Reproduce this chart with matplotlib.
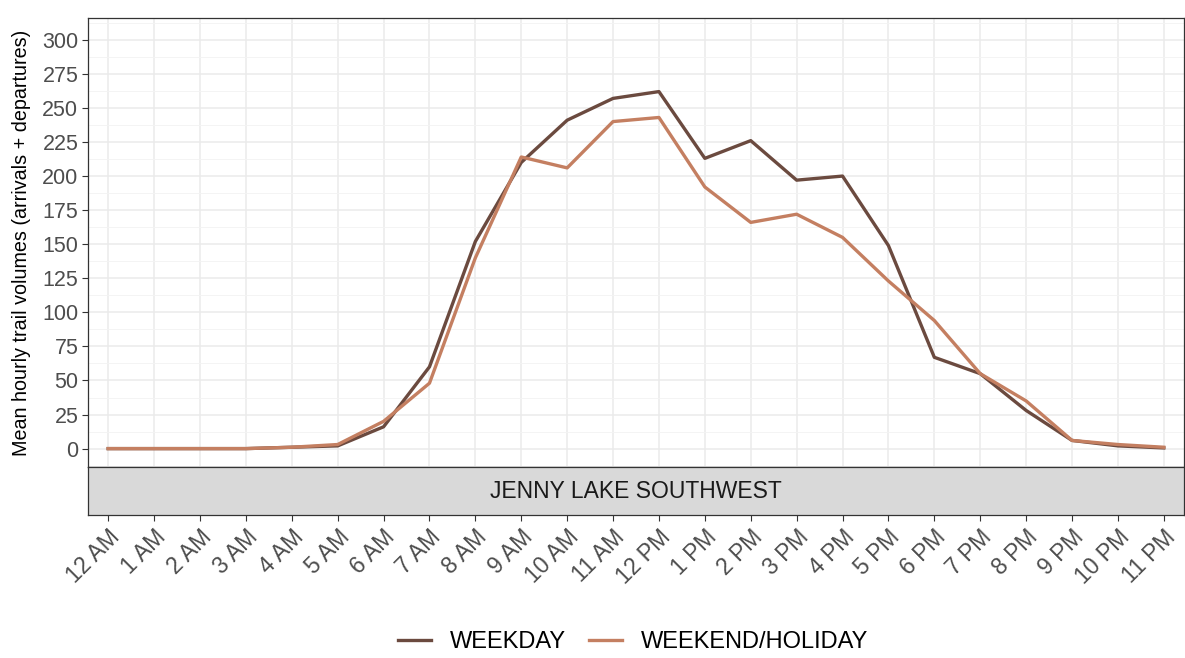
import matplotlib
matplotlib.use("Agg")
import matplotlib.pyplot as plt
import numpy as np

plt.rcParams['font.family'] = ['Liberation Sans', 'DejaVu Sans']

hours = ["12 AM", "1 AM", "2 AM", "3 AM", "4 AM", "5 AM", "6 AM", "7 AM", "8 AM", "9 AM",
         "10 AM", "11 AM", "12 PM", "1 PM", "2 PM", "3 PM", "4 PM", "5 PM", "6 PM", "7 PM",
         "8 PM", "9 PM", "10 PM", "11 PM"]
weekday = [0, 0, 0, 0, 1, 2, 16, 60, 152, 210, 241, 257, 262, 213, 226, 197, 200, 149,
           67, 55, 28, 6, 2, 0.5]
weekend = [0, 0, 0, 0, 1, 3, 20, 48, 140, 214, 206, 240, 243, 192, 166, 172, 155, 123,
           94, 55, 35, 6, 3, 1]
series_names = ["WEEKDAY", "WEEKEND/HOLIDAY"]
colors = ["#6B4A3F", "#C47F61"]
facet_label = "JENNY LAKE SOUTHWEST"
yticks = list(range(0, 301, 25))

W, H = 1185, 658
fig = plt.figure(figsize=(W / 100, H / 100), dpi=100)

L, R, T, B = 88, 1184, 18, 467
ax = fig.add_axes([L / W, 1 - B / H, (R - L) / W, (B - T) / H])
sT, sB = 467, 515
sax = fig.add_axes([L / W, 1 - sB / H, (R - L) / W, (sB - sT) / H], sharex=ax)

x = np.arange(len(hours))
for vals, name, c in zip([weekday, weekend], series_names, colors):
    ax.plot(x, vals, color=c, lw=2.4, label=name, solid_joinstyle='round', zorder=3)

ax.set_xlim(-0.44, 23.44)
ax.set_ylim(-13.5, 316)
ax.set_yticks(yticks)
ax.set_yticks(np.arange(-12.5, 316, 25), minor=True)
ax.set_xticks(x)
ax.set_xticks(x[:-1] + 0.5, minor=True)
ax.grid(which='major', color='#EBEBEB', lw=1.1)
ax.grid(which='minor', color='#F3F3F3', lw=0.6)
ax.set_axisbelow(True)
ax.tick_params(axis='x', which='both', bottom=False, labelbottom=False)
ax.tick_params(axis='y', which='major', length=4.5, color='#333333', labelsize=15.5,
               labelcolor='#4D4D4D', width=0.8, pad=2.5)
ax.tick_params(axis='y', which='minor', length=0)
for s in ax.spines.values():
    s.set_color('#333333')
    s.set_linewidth(0.9)
ax.set_ylabel("Mean hourly trail volumes (arrivals + departures)", fontsize=14.2,
              color='black', labelpad=8)

# strip
sax.set_facecolor('#D9D9D9')
sax.set_ylim(0, 1)
sax.set_yticks([])
for s in sax.spines.values():
    s.set_color('#333333')
    s.set_linewidth(0.9)
sax.text(0.5, 0.5, facet_label, transform=sax.transAxes, ha='center', va='center',
         fontsize=16.5, color='#1A1A1A')
sax.set_xticks(x)
sax.set_xticks([], minor=True)
sax.set_xticklabels(hours, rotation=45, ha='right', va='top', rotation_mode='anchor',
                    fontsize=16.5, color='#4D4D4D')
sax.tick_params(axis='x', length=4.5, color='#333333', width=0.8, pad=3)

handles, labels = ax.get_legend_handles_labels()
fig.legend(handles, labels, loc='center', bbox_to_anchor=(633 / W, 1 - 642 / H), ncol=2,
           frameon=False, fontsize=17, handlelength=1.4, handletextpad=0.8,
           columnspacing=0.95)

fig.savefig("out.png", dpi=100)
